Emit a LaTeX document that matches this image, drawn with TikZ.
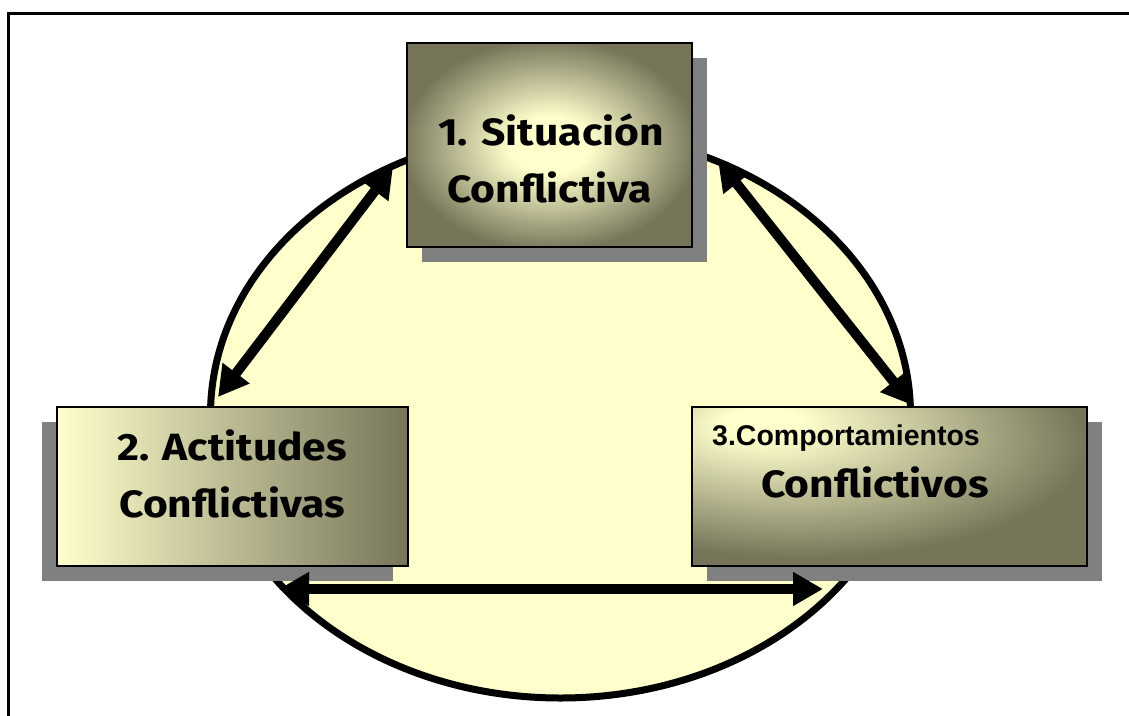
\documentclass[tikz,border=0pt]{standalone}
\usepackage{fontspec}
\setmainfont{Liberation Sans}
\newfontfamily\comicfont{Fira Sans}[FakeStretch=1.12]
\usetikzlibrary{arrows.meta,shadows}
\definecolor{lightc}{HTML}{FFFFCC}
\definecolor{darkc}{HTML}{76755A}
\definecolor{shadowc}{HTML}{808080}
\definecolor{ellfill}{HTML}{FFFFCC}
\pgfdeclareradialshading{boxone}{\pgfpoint{0bp}{0bp}}{color(0bp)=(lightc); color(7bp)=(lightc); color(26bp)=(darkc); color(50bp)=(darkc)}
\pgfdeclareradialshading{boxthree}{\pgfpoint{-17bp}{21bp}}{color(0bp)=(lightc); color(5bp)=(lightc); color(36bp)=(darkc); color(100bp)=(darkc)}
\tikzset{
  boxnode/.style={draw=black, line width=2pt, rectangle, inner sep=0pt},
  comictext/.style={font=\comicfont\bfseries\fontsize{38}{42}\selectfont, inner sep=0pt},
  arialtext/.style={font=\bfseries\fontsize{28.5}{32}\selectfont, inner sep=0pt},
  bigarrow/.style={line width=10pt, {Triangle[length=30pt,width=32pt]}-{Triangle[length=30pt,width=32pt]}},
}
\begin{document}
\begin{tikzpicture}[x=1pt,y=-1pt]
\useasboundingbox (0,0) rectangle (1129,715);
% frame
\draw[line width=3pt] (8.5,720) -- (8.5,13.5) -- (1135,13.5);
% ellipse
\draw[line width=7pt, fill=ellfill] (560.5,414.7) ellipse [x radius=350, y radius=283.3];
% boxes
\node[boxnode, minimum width=285pt, minimum height=204pt, shading=boxone,
      drop shadow={shadow xshift=15pt, shadow yshift=-15pt, fill=shadowc, opacity=1}]
      (s1) at (549.5,145) {};
\node[boxnode, minimum width=351pt, minimum height=159pt, left color=lightc, right color=darkc,
      drop shadow={shadow xshift=-15pt, shadow yshift=-15pt, fill=shadowc, opacity=1}]
      (s2) at (232.5,486.5) {};
\node[boxnode, minimum width=395pt, minimum height=159pt, shading=boxthree,
      drop shadow={shadow xshift=15pt, shadow yshift=-15pt, fill=shadowc, opacity=1}]
      (s3) at (889.5,486.5) {};
% texts
\node[comictext, anchor=base] (t1a) at (551,145) {1. Situación};
\node[comictext, anchor=base] (t1b) at (549.5,202) {Conflictiva};
\node[comictext, anchor=base] (t2a) at (232,460) {2. Actitudes};
\node[comictext, anchor=base] (t2b) at (232,517) {Conflictivas};
\node[arialtext, anchor=base west] (t3a) at (712,445) {3.Comportamientos};
\node[comictext, anchor=base] (t3b) at (875,497) {Conflictivos};
% arrow ends
\coordinate (a1s) at (218,397);
\coordinate (a1e) at (393,167);
\coordinate (a2s) at (718,160);
\coordinate (a2e) at (912,405);
\coordinate (a3s) at (279,589);
\coordinate (a3e) at (823,589);
\draw[bigarrow] (a1s) -- (a1e);
\draw[bigarrow] (a2s) -- (a2e);
\draw[bigarrow] (a3s) -- (a3e);
\end{tikzpicture}
\end{document}
